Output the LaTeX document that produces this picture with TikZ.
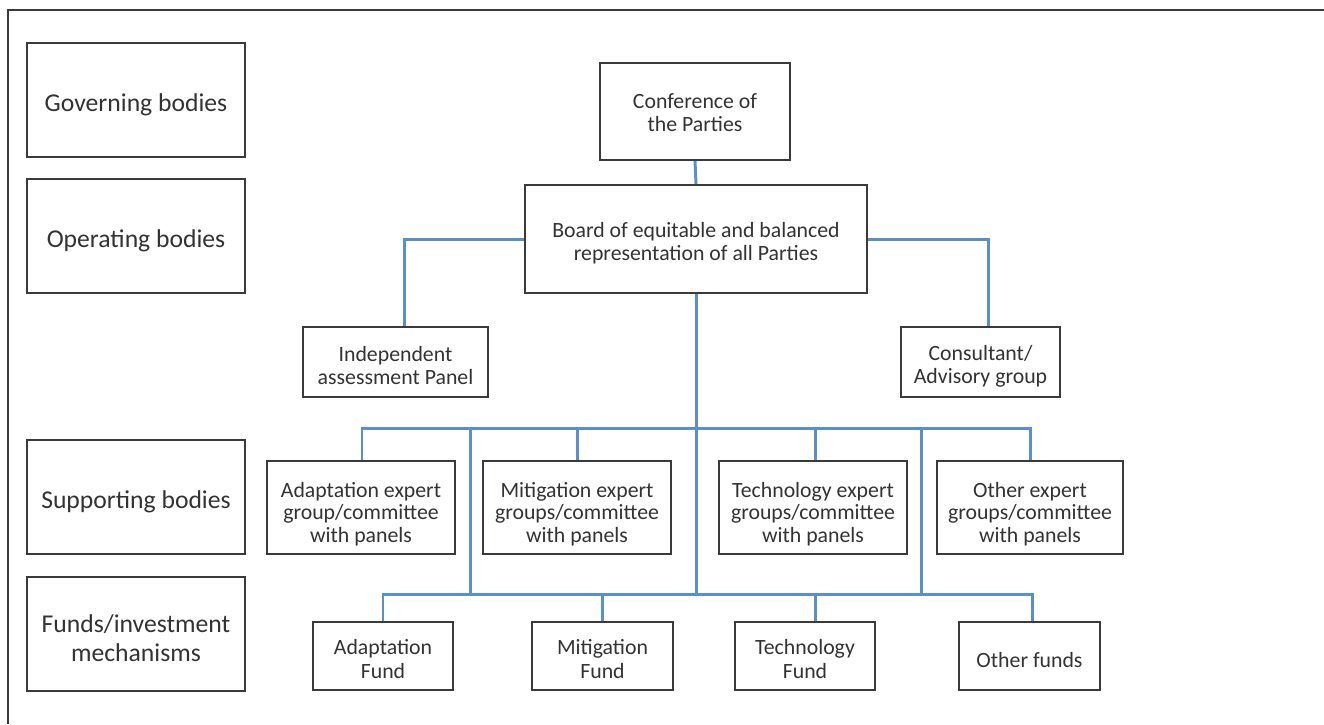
\documentclass[tikz,border=0pt]{standalone}
\usepackage{fontspec}
\setmainfont{Carlito}
\usetikzlibrary{calc}
\definecolor{boxline}{HTML}{3A3A3A}
\definecolor{txt}{HTML}{333333}
\definecolor{conn}{HTML}{5B8FC7}
\begin{document}
\begin{tikzpicture}[x=0.02cm,y=-0.02cm,
  box/.style={draw=boxline, line width=1.1pt, fill=white, inner sep=0pt},
  lab/.style={align=center, text=txt, inner sep=0pt, font=\fontsize{12.4}{13.3}\selectfont},
  lab3/.style={lab, font=\fontsize{12.4}{12.8}\selectfont},
  llab/.style={lab, font=\fontsize{14.6}{16.4}\selectfont},
  link/.style={draw=conn, line width=1.7pt}]
\useasboundingbox (0,0) rectangle (1324,724);
\draw[boxline, line width=1.1pt] (8,724) -- (8,10) -- (1324,10);
% left labels
\node[box, minimum width=218*0.02cm, minimum height=114*0.02cm,
  label={[llab, yshift=-0.09cm]center:Governing bodies}] (gov) at (136,100) {};
\node[box, minimum width=218*0.02cm, minimum height=114*0.02cm,
  label={[llab, yshift=-0.09cm]center:Operating bodies}] (op) at (136,236) {};
\node[box, minimum width=218*0.02cm, minimum height=114*0.02cm,
  label={[llab, yshift=-0.09cm]center:Supporting bodies}] (sup) at (136,497) {};
\node[box, minimum width=218*0.02cm, minimum height=114*0.02cm,
  label={[llab, yshift=-0.08cm]center:{Funds/investment\\mechanisms}}] (fun) at (136,634) {};
% hierarchy
\node[box, minimum width=190*0.02cm, minimum height=97*0.02cm,
  label={[lab, yshift=-0.02cm]center:{Conference of\\the Parties}}] (cop) at (695,111.5) {};
\node[box, minimum width=342*0.02cm, minimum height=108*0.02cm,
  label={[lab, yshift=-0.08cm]center:{Board of equitable and balanced\\representation of all Parties}}] (board) at (696,239) {};
\node[box, minimum width=185*0.02cm, minimum height=70*0.02cm,
  label={[lab, yshift=-0.07cm]center:{Independent\\assessment Panel}}] (panel) at (395.5,362) {};
\node[box, minimum width=159*0.02cm, minimum height=70*0.02cm,
  label={[lab, yshift=-0.08cm]center:{Consultant/\\Advisory group}}] (cons) at (980.5,362) {};
\node[box, minimum width=188*0.02cm, minimum height=93*0.02cm,
  label={[lab3, yshift=-0.13cm]center:{Adaptation expert\\group/committee\\with panels}}] (ae) at (361,507.5) {};
\node[box, minimum width=188*0.02cm, minimum height=93*0.02cm,
  label={[lab3, yshift=-0.13cm]center:{Mitigation expert\\groups/committee\\with panels}}] (me) at (577,507.5) {};
\node[box, minimum width=188*0.02cm, minimum height=93*0.02cm,
  label={[lab3, yshift=-0.13cm]center:{Technology expert\\groups/committee\\with panels}}] (te) at (813,507.5) {};
\node[box, minimum width=186*0.02cm, minimum height=93*0.02cm,
  label={[lab3, yshift=-0.13cm]center:{Other expert\\groups/committee\\with panels}}] (oe) at (1030,507.5) {};
\node[box, minimum width=140*0.02cm, minimum height=68*0.02cm,
  label={[lab, yshift=-0.06cm]center:{Adaptation\\Fund}}] (af) at (383,656) {};
\node[box, minimum width=141*0.02cm, minimum height=68*0.02cm,
  label={[lab, yshift=-0.06cm]center:{Mitigation\\Fund}}] (mf) at (602.5,656) {};
\node[box, minimum width=140*0.02cm, minimum height=68*0.02cm,
  label={[lab, yshift=-0.06cm]center:{Technology\\Fund}}] (tf) at (805,656) {};
\node[box, minimum width=141*0.02cm, minimum height=68*0.02cm,
  label={[lab, yshift=-0.08cm]center:Other funds}] (of) at (1029.5,656) {};
% bus coordinates
\coordinate (bus1) at (696,428);
\coordinate (bus2) at (696,594);
\coordinate (v1a) at (470,428);
\coordinate (v1b) at (470,594);
\coordinate (v2a) at (921,428);
\coordinate (v2b) at (921,594);
% connectors
\draw[link] (cop.south) -- (board.north);
\draw[link] (board.west) -| ($(panel.north)+(8.5,0)$);
\draw[link] (board.east) -| ($(cons.north)+(7.5,0)$);
\draw[link] (board.south) -- (bus2);
\draw[link] ($(ae.north)+(1,0)$) |- (bus1) -| (oe.north);
\draw[link] (me.north) -- (me.north |- bus1);
\draw[link] ($(te.north)+(2,0)$) -- ($(te.north |- bus1)+(2,0)$);
\draw[link] (v1a) -- (v1b);
\draw[link] (v2a) -- (v2b);
\draw[link] (af.north) |- (bus2) -| ($(of.north)+(2.5,0)$);
\draw[link] (mf.north) -- (mf.north |- bus2);
\draw[link] ($(tf.north)+(10,0)$) -- ($(tf.north |- bus2)+(10,0)$);
\end{tikzpicture}
\end{document}
